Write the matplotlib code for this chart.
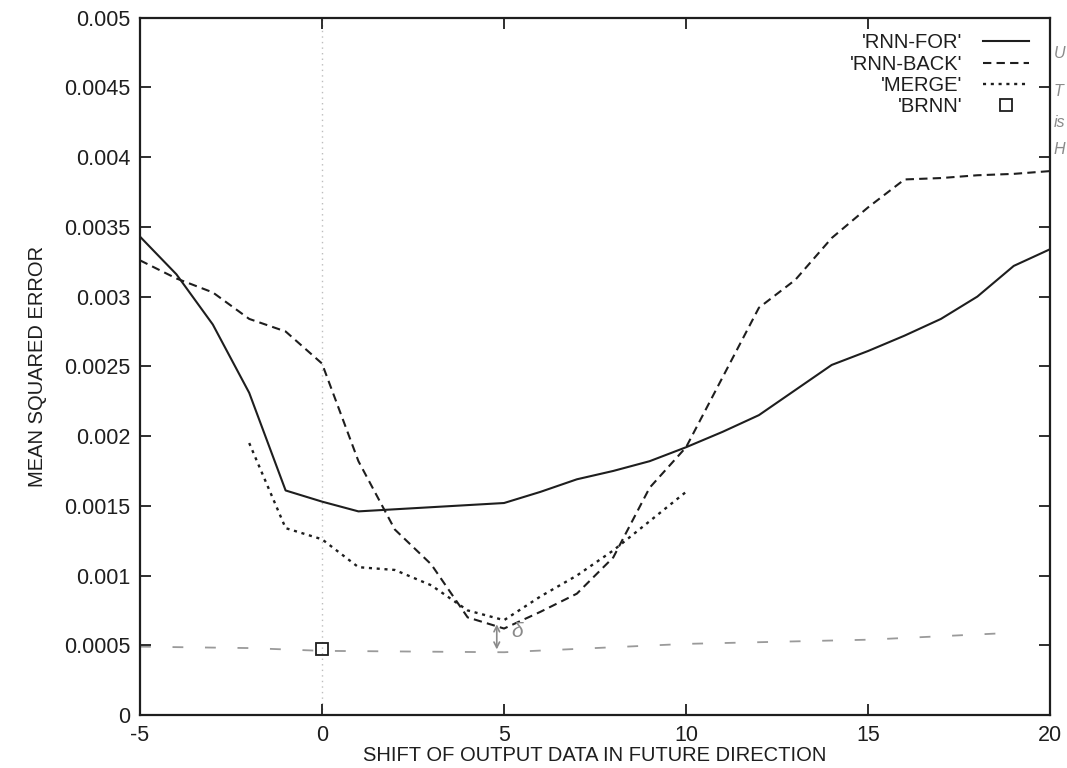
import matplotlib
matplotlib.use("Agg")
import matplotlib.pyplot as plt

plt.rcParams['font.family'] = ['Liberation Sans', 'DejaVu Sans']

# ---- data ----
for_x = [-5, -4, -3, -2, -1, 0, 1, 3, 5, 6, 7, 8, 9, 10, 11, 12, 13, 14, 15, 16, 17, 18, 19, 20]
for_y = [0.00343, 0.00316, 0.00280, 0.00231, 0.00161, 0.00153, 0.00146, 0.00149, 0.00152,
         0.00160, 0.00169, 0.00175, 0.00182, 0.00192, 0.00203, 0.00215, 0.00233, 0.00251,
         0.00261, 0.00272, 0.00284, 0.00300, 0.00322, 0.00334]

back_x = [-5, -4, -3, -2, -1, 0, 1, 2, 3, 4, 5, 6, 7, 8, 9, 10, 11, 12, 13, 14, 15, 16, 17, 18, 19, 20]
back_y = [0.00326, 0.00313, 0.00303, 0.00284, 0.00275, 0.00252, 0.00182, 0.00133, 0.00108,
          0.00070, 0.00062, 0.00074, 0.00087, 0.00113, 0.00163, 0.00192, 0.00242, 0.00292,
          0.00312, 0.00342, 0.00364, 0.00384, 0.00385, 0.00387, 0.00388, 0.00390]

merge_x = [-2, -1, 0, 1, 2, 3, 4, 5, 6, 7, 8, 9, 10]
merge_y = [0.00195, 0.00134, 0.00126, 0.00106, 0.00104, 0.00093, 0.00075, 0.00068,
           0.00085, 0.00100, 0.00118, 0.00139, 0.00160]

brnn_x = [0]
brnn_y = [0.00047]

# hand-drawn pencil annotation line near the BRNN level
pencil_x = [-5, -2, 0, 5, 10, 15, 19]
pencil_y = [0.00049, 0.00048, 0.00046, 0.00045, 0.00051, 0.00054, 0.00059]

x_ticks = [-5, 0, 5, 10, 15, 20]
y_ticks = [0, 0.0005, 0.001, 0.0015, 0.002, 0.0025, 0.003, 0.0035, 0.004, 0.0045, 0.005]
y_tick_labels = ['0', '0.0005', '0.001', '0.0015', '0.002', '0.0025', '0.003',
                 '0.0035', '0.004', '0.0045', '0.005']

ink = '#1e1e1e'

fig = plt.figure(figsize=(10.67, 7.68), dpi=100)
ax = fig.add_axes([0.1312, 0.069, 0.853, 0.908])

# faint vertical dotted line at x=0
ax.axvline(0, color='#bdbdbd', lw=1.0, ls=(0, (1, 3)), zorder=1)
# pencil line
ax.plot(pencil_x, pencil_y, color='#9a9a9a', lw=1.3, ls=(0, (6, 12)), zorder=1)

ax.plot(for_x, for_y, color=ink, lw=1.5, ls='-', label="'RNN-FOR'")
ax.plot(back_x, back_y, color=ink, lw=1.5, ls=(0, (4, 2.5)), label="'RNN-BACK'")
ax.plot(merge_x, merge_y, color=ink, lw=1.7, ls=(0, (1.3, 2.0)), label="'MERGE'")
ax.plot(brnn_x, brnn_y, ls='none', marker='s', ms=8, mfc='none', mec=ink, mew=1.3,
        label="'BRNN'")

# pencil arrow and delta annotation near x=5
ax.annotate('', xy=(4.8, 0.00045), xytext=(4.8, 0.00067),
            arrowprops=dict(arrowstyle='<->', color='#8a8a8a', lw=1.2))
ax.text(5.2, 0.00056, 'δ', color='#8a8a8a', fontsize=15, style='italic')

ax.set_xlim(-5, 20)
ax.set_ylim(0, 0.005)
ax.set_xticks(x_ticks)
ax.set_xticklabels([str(t) for t in x_ticks])
ax.set_yticks(y_ticks)
ax.set_yticklabels(y_tick_labels)
ax.tick_params(direction='in', length=8, width=1.3, labelsize=15.5, top=True, right=True,
               colors=ink, pad=7)
for s in ax.spines.values():
    s.set_linewidth(1.6)
    s.set_color(ink)

ax.set_xlabel('SHIFT OF OUTPUT DATA IN FUTURE DIRECTION', fontsize=14.5, color=ink, labelpad=0)
ax.set_ylabel('MEAN SQUARED ERROR', fontsize=14.5, color=ink, labelpad=12)

leg = ax.legend(loc='upper right', bbox_to_anchor=(0.99, 0.995), frameon=False,
                markerfirst=False, fontsize=14.5, handlelength=2.3, handletextpad=1.0,
                labelspacing=0.12, borderaxespad=0.2)
for t in leg.get_texts():
    t.set_ha('right')
    t.set_color(ink)
leg._legend_box.align = 'right'

# handwritten margin notes
for txt, yy in [('U', 0.925), ('T', 0.875), ('is', 0.835), ('H', 0.8)]:
    fig.text(0.9875, yy, txt, color='#8a8a8a', fontsize=11.5, style='italic', ha='left')

fig.savefig('out.png', dpi=100)
